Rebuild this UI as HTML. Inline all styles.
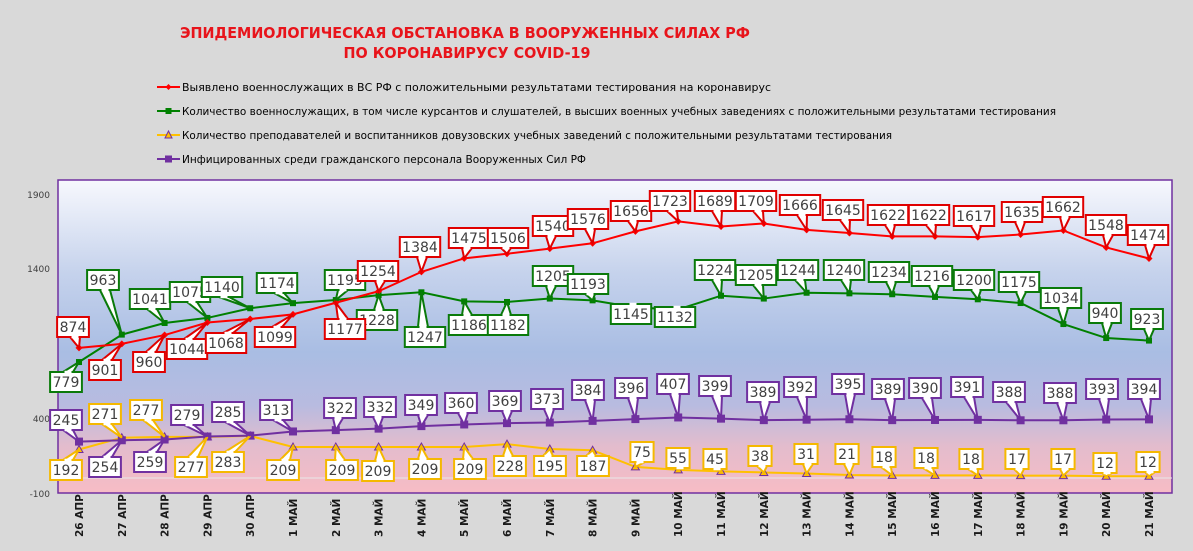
<!DOCTYPE html>
<html><head><meta charset="utf-8">
<style>
html,body{margin:0;padding:0;background:#d9d9d9;}
svg{display:block;}
text{font-family:"DejaVu Sans","Liberation Sans",sans-serif;}
</style></head>
<body>
<svg id="c" width="1193" height="551" xmlns="http://www.w3.org/2000/svg">
<defs>
<linearGradient id="bg" x1="0" y1="0" x2="0" y2="1">
<stop offset="0" stop-color="#f7f8fd"/>
<stop offset="0.3" stop-color="#c5d2ec"/>
<stop offset="0.55" stop-color="#a9bde3"/>
<stop offset="0.72" stop-color="#b8bbe0"/>
<stop offset="0.85" stop-color="#e3bccd"/>
<stop offset="1" stop-color="#f7bcc5"/>
</linearGradient>
</defs>
<rect width="1193" height="551" fill="#d9d9d9"/>
<text x="465" y="38" text-anchor="middle" font-size="15" font-weight="bold" fill="#e8141b" textLength="570" lengthAdjust="spacingAndGlyphs">ЭПИДЕМИОЛОГИЧЕСКАЯ ОБСТАНОВКА В ВООРУЖЕННЫХ СИЛАХ РФ</text>
<text x="467" y="58" text-anchor="middle" font-size="15" font-weight="bold" fill="#e8141b" textLength="247" lengthAdjust="spacingAndGlyphs">ПО КОРОНАВИРУСУ COVID-19</text>
<g font-size="11" fill="#000">
<line x1="157" y1="87" x2="180" y2="87" stroke="#ff0000" stroke-width="2"/><path d="M168.5 84 L171.5 87 L168.5 90 L165.5 87Z" fill="#ff0000"/>
<text x="182" y="91" textLength="589" lengthAdjust="spacingAndGlyphs">Выявлено военнослужащих в ВС РФ с положительными результатами тестирования на коронавирус</text>
<line x1="157" y1="111" x2="180" y2="111" stroke="#008000" stroke-width="2"/><rect x="165.5" y="108" width="6" height="6" fill="#008000"/>
<text x="182" y="115" textLength="874" lengthAdjust="spacingAndGlyphs">Количество военнослужащих, в том числе курсантов и слушателей, в высших военных учебных заведениях с положительными результатами тестирования</text>
<line x1="157" y1="135" x2="180" y2="135" stroke="#ffc000" stroke-width="2"/><path d="M168.5 131 L172 138 L165 138Z" fill="#ffc000" stroke="#7030a0" stroke-width="1"/>
<text x="182" y="139" textLength="710" lengthAdjust="spacingAndGlyphs">Количество преподавателей и воспитанников довузовских учебных заведений с положительными результатами тестирования</text>
<line x1="157" y1="159" x2="180" y2="159" stroke="#7030a0" stroke-width="2"/><rect x="165" y="155.5" width="7" height="7" fill="#7030a0"/>
<text x="182" y="163" textLength="404" lengthAdjust="spacingAndGlyphs">Инфицированных среди гражданского персонала Вооруженных Сил РФ</text>
</g>
<rect x="58" y="180" width="1114" height="313" fill="url(#bg)" stroke="#7030a0" stroke-width="1.5"/>
<line x1="58" y1="478" x2="1172" y2="478" stroke="#e8e8e8" stroke-width="1"/>
<g font-size="9" fill="#404040" text-anchor="end">
<text x="50" y="198">1900</text>
<text x="50" y="348">1400</text>
<text x="50" y="347" opacity="0"></text>
<text x="50" y="423">400</text>
<text x="50" y="497">-100</text>
<text x="50" y="348" opacity="0"></text>
</g>
<g id="g"></g>
</svg>
<script>
var NS="http://www.w3.org/2000/svg";
var g=document.getElementById('g');
function el(t,a,txt){var e=document.createElementNS(NS,t);for(var k in a)e.setAttribute(k,a[k]);if(txt!==undefined)e.textContent=txt;g.appendChild(e);return e;}
// fix y labels positions
var yl=document.querySelectorAll('text[text-anchor]');
function Y(v){return 493-(v+100)*0.149;}
function X(i){return 79+i*42.8;}
var dates=["26 АПР","27 АПР","28 АПР","29 АПР","30 АПР","1 МАЙ","2 МАЙ","3 МАЙ","4 МАЙ","5 МАЙ","6 МАЙ","7 МАЙ","8 МАЙ","9 МАЙ","10 МАЙ","11 МАЙ","12 МАЙ","13 МАЙ","14 МАЙ","15 МАЙ","16 МАЙ","17 МАЙ","18 МАЙ","19 МАЙ","20 МАЙ","21 МАЙ"];
var series=[
{c:"#ff0000",bc:"#e00000",m:"d",v:[874,901,960,1044,1068,1099,1177,1254,1384,1475,1506,1540,1576,1656,1723,1689,1709,1666,1645,1622,1622,1617,1635,1662,1548,1474],
 l:[[73,327],[105,370],[149,362],[187,349],[226,343],[275,337],[345,329],[378,271],[420,247],[469,238],[508,238],[553,226],[588,219],[631,211],[670,201],[715,201],[756,201],[800,205],[843,210],[888,215],[929,215],[974,216],[1022,212],[1063,207],[1106,225],[1148,235]]},
{c:"#008000",bc:"#0a7a0a",m:"s",v:[779,963,1041,1075,1140,1174,1195,1228,1247,1186,1182,1205,1193,1145,1132,1224,1205,1244,1240,1234,1216,1200,1175,1034,940,923],
 l:[[66,382],[103,280],[150,299],[190,292],[222,287],[277,283],[345,280],[377,320],[425,337],[469,325],[508,325],[553,276],[588,284],[631,314],[675,317],[715,270],[756,275],[798,270],[844,270],[889,272],[932,276],[974,280],[1019,282],[1061,298],[1105,313],[1147,319]]},
{c:"#7030a0",bc:"#7030a0",m:"S",v:[245,254,259,279,285,313,322,332,349,360,369,373,384,396,407,399,389,392,395,389,390,391,388,388,393,394],
 l:[[66,420],[105,467],[150,462],[187,415],[228,412],[276,410],[340,408],[380,407],[421,405],[461,403],[505,401],[547,399],[588,390],[631,388],[673,384],[715,386],[763,392],[800,387],[848,384],[888,389],[925,388],[967,387],[1009,392],[1060,393],[1102,389],[1144,389]]},
{c:"#ffc000",bc:"#f5b800",m:"t",v:[192,271,277,277,283,209,209,209,209,209,228,195,187,75,55,45,38,31,21,18,18,18,17,17,12,12],
 l:[[66,470],[105,414],[146,410],[191,467],[228,462],[283,470],[342,470],[378,471],[425,469],[470,469],[510,466],[550,466],[593,466],[642,452],[678,458],[715,459],[760,456],[806,454],[847,454],[884,457],[926,458],[971,459],[1017,459],[1063,459],[1105,463],[1148,462]]}
];
// draw order: yellow, purple, green, red lines
[3,2,1,0].forEach(function(si){var s=series[si];
 var pts=s.v.map(function(v,i){return X(i)+","+Y(v);}).join(" ");
 el("polyline",{points:pts,fill:"none",stroke:s.c,"stroke-width":2});
 s.v.forEach(function(v,i){var x=X(i),y=Y(v);
  if(s.m=="d")el("path",{d:"M"+x+" "+(y-3.5)+"L"+(x+3.5)+" "+y+"L"+x+" "+(y+3.5)+"L"+(x-3.5)+" "+y+"Z",fill:s.c});
  else if(s.m=="s")el("rect",{x:x-3,y:y-3,width:6,height:6,fill:s.c});
  else if(s.m=="S")el("rect",{x:x-4,y:y-4,width:8,height:8,fill:s.c});
  else el("path",{d:"M"+x+" "+(y-4)+"L"+(x+4)+" "+(y+3)+"L"+(x-4)+" "+(y+3)+"Z",fill:"#ffc000",stroke:"#7030a0","stroke-width":1});
 });
});
[3,2,1,0].forEach(function(si){var s=series[si];
 s.v.forEach(function(v,i){var x=X(i),y=Y(v);var c=s.l[i];var t=String(v);
  var w=t.length*8.6+6,h=20;var bx=c[0]-w/2,by=c[1]-h/2;
  var above=c[1]<y;var ey=above?by+h:by;var dx=(x-c[0])>0?1:-1;
  var ax=c[0]-3,bx2=c[0]+7; if(x<c[0]){ax=c[0]-7;bx2=c[0]+3;}
  el("path",{d:"M"+ax+" "+ey+"L"+x+" "+y+"L"+bx2+" "+ey+"Z",fill:"#fff",stroke:s.bc,"stroke-width":2,"stroke-linejoin":"miter"});
  el("rect",{x:bx,y:by,width:w,height:h,fill:"#fff",stroke:s.bc,"stroke-width":2});
  el("path",{d:"M"+(ax+1.5)+" "+ey+"L"+(bx2-1.5)+" "+ey,stroke:"#fff","stroke-width":2.5});
  el("text",{x:c[0],y:c[1]+5,"text-anchor":"middle","font-size":"14",fill:"#404040"},t);
 });
});
dates.forEach(function(d,i){var x=X(i)+4;
 el("text",{x:0,y:0,transform:"translate("+x+",537) rotate(-90)","font-size":"10.5","font-weight":"bold",fill:"#1a1a1a"},d);
});
// fix y tick label positions
var tl=document.querySelectorAll('svg > g[font-size="9"] text');
tl[0].setAttribute('y',198);tl[1].setAttribute('y',272);tl[2].setAttribute('y',347);tl[3].setAttribute('y',422);tl[4].setAttribute('y',497);
</script>
</body></html>
